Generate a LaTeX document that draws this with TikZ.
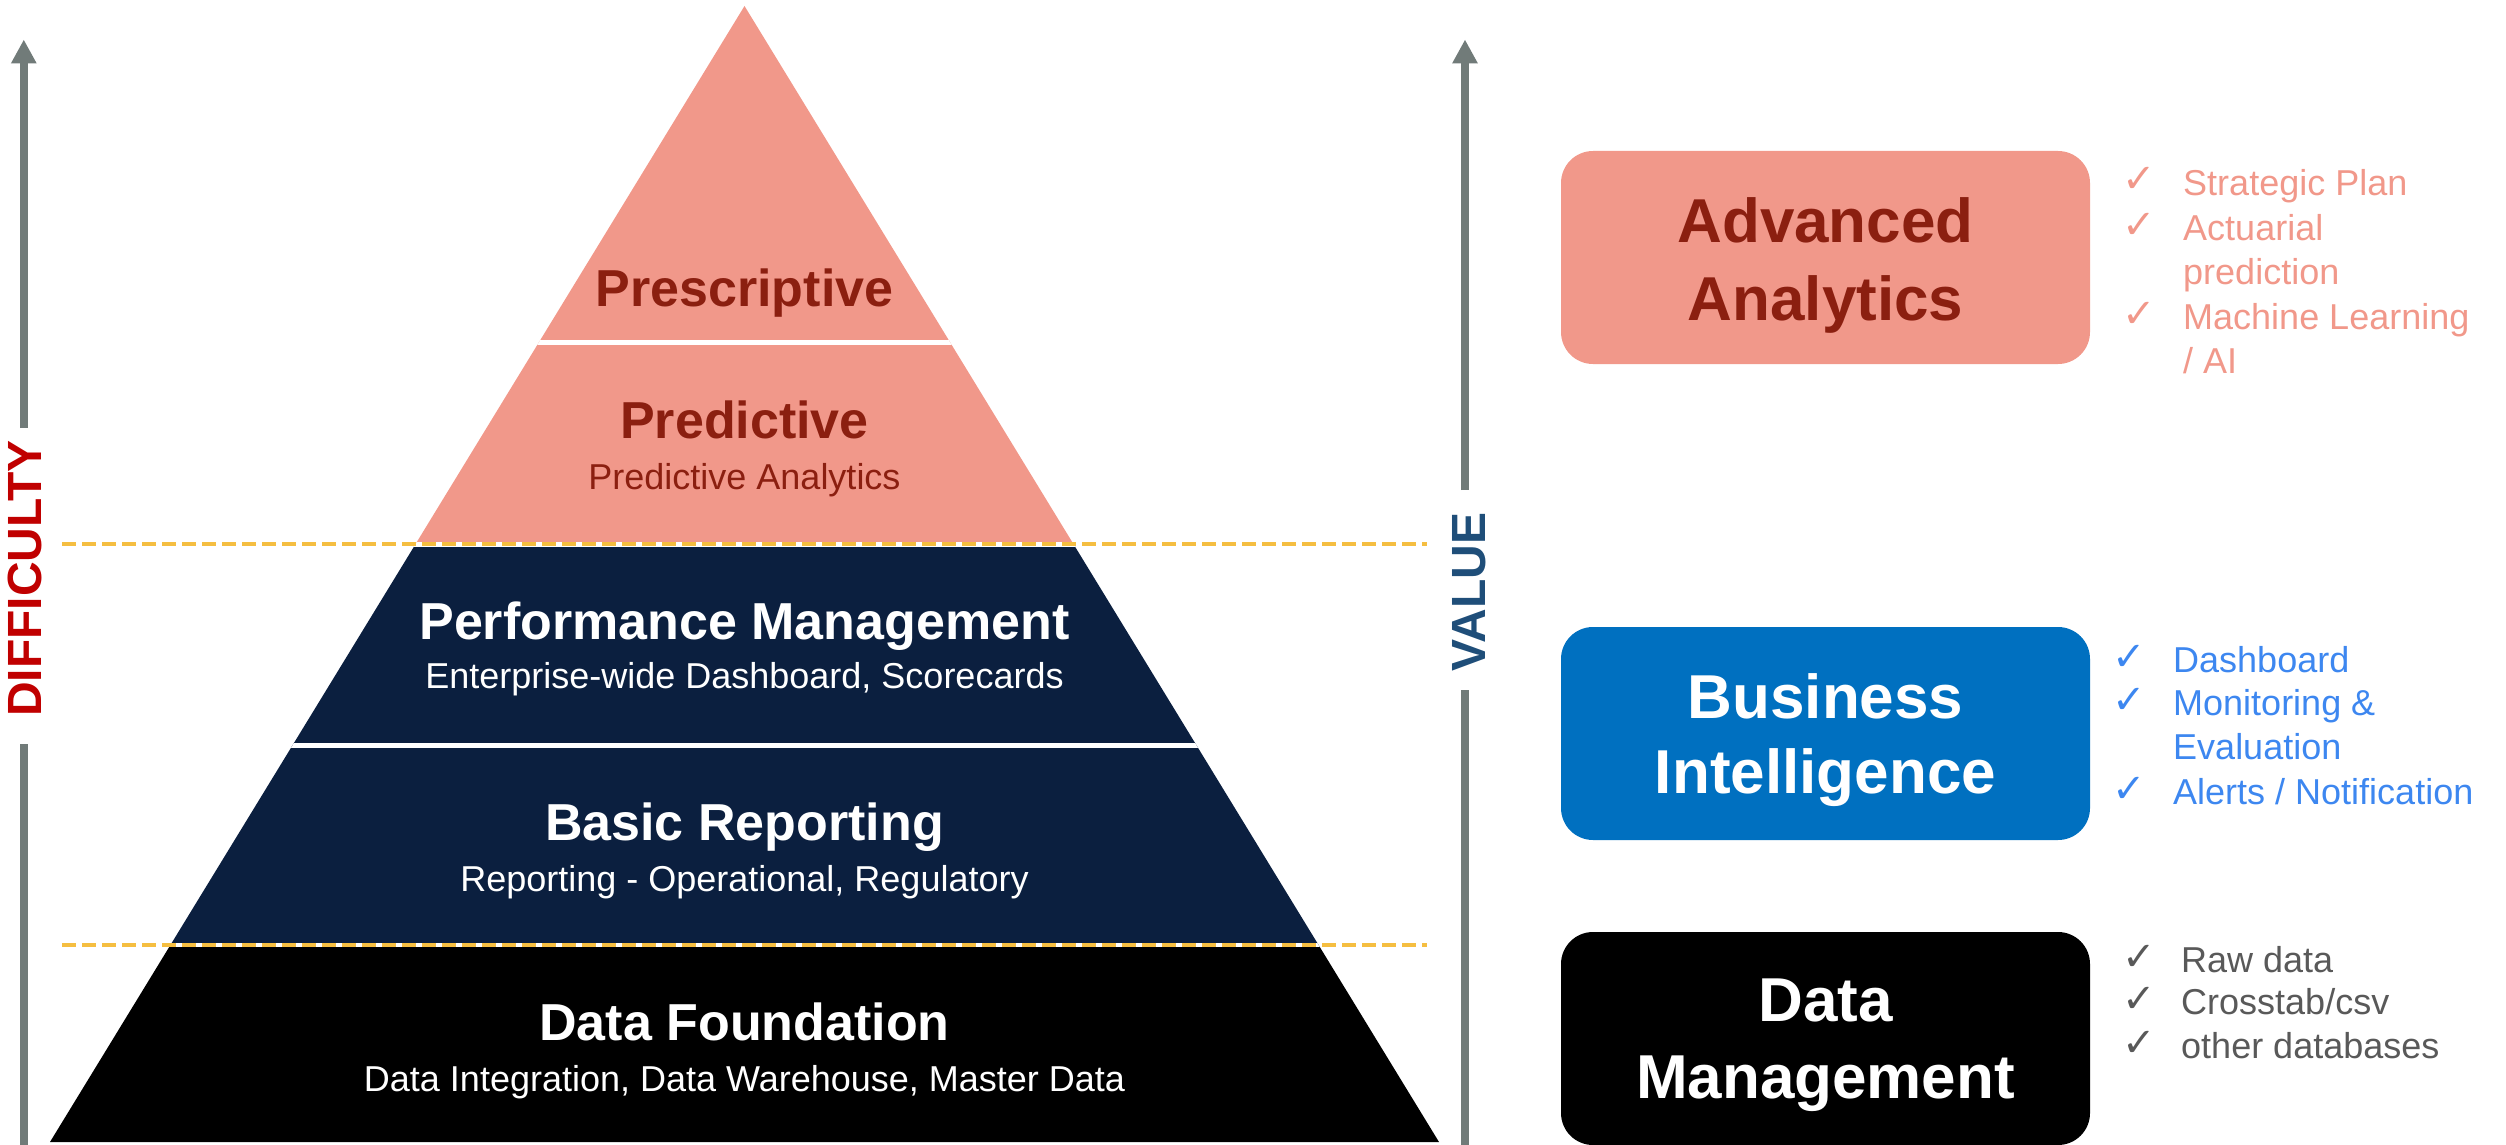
\documentclass[tikz,border=0pt]{standalone}
\usepackage{fontspec}
\setmainfont{Liberation Sans}
\newfontfamily\symfont{DejaVu Sans}
\usetikzlibrary{arrows.meta}
\definecolor{salmon}{HTML}{F1988A}
\definecolor{darkred}{HTML}{8B1F10}
\definecolor{navy}{HTML}{0B1F3F}
\definecolor{bibox}{HTML}{0070C0}
\definecolor{bitext}{HTML}{3D87F0}
\definecolor{dmtext}{HTML}{595959}
\definecolor{arrowgray}{HTML}{717B79}
\definecolor{diffred}{HTML}{C00000}
\definecolor{valblue}{HTML}{1F4E79}
\definecolor{dashyellow}{HTML}{F5BE41}
\begin{document}
\begin{tikzpicture}[x=1pt,y=-1pt,
  title/.style={anchor=base, inner sep=0pt, font=\bfseries\fontsize{52}{60}\selectfont},
  sub/.style={anchor=base, inner sep=0pt, font=\fontsize{36}{42}\selectfont},
  boxtitle/.style={anchor=base, inner sep=0pt, font=\bfseries\fontsize{62}{70}\selectfont},
  item/.style={anchor=base west, inner sep=0pt, font=\fontsize{36}{42}\selectfont},
  tick/.style={anchor=base west, inner sep=0pt, font=\symfont\fontsize{40}{42}\selectfont},
  axis/.style={arrowgray, line width=8pt},
  axishead/.style={axis, -{Triangle[width=24pt,length=24pt]}},
  axislabel/.style={rotate=90, inner sep=0pt, font=\bfseries\fontsize{48}{50}\selectfont},
  sep/.style={white, line width=4.5pt},
  level/.style={dashyellow, line width=3.5pt, dash pattern=on 14pt off 6pt},
  panel/.style={rounded corners=32pt, minimum width=529pt, minimum height=213pt, inner sep=0pt}
]
\useasboundingbox (0,0) rectangle (2506,1145);

% pyramid
\coordinate (apex) at (744.5,6);
\coordinate (bl) at (50,1142);
\coordinate (br) at (1439,1142);
\begin{scope}
\clip (apex) -- (br) -- (bl) -- cycle;
\fill[salmon] (0,0) rectangle (2506,546);
\fill[navy] (0,546) rectangle (2506,945);
\fill[black] (0,945) rectangle (2506,1145);
\draw[sep] (0,342.5) -- (2506,342.5);
\draw[sep, line width=5pt] (0,544) -- (2506,544);
\draw[sep] (0,745.5) -- (2506,745.5);
\draw[sep] (0,945) -- (2506,945);
\end{scope}

% dashed level lines
\coordinate (d1l) at (62,544);
\coordinate (d1r) at (1427,544);
\coordinate (d2l) at (62,945);
\coordinate (d2r) at (1427,945);
\draw[level] (d1l) -- (d1r);
\draw[level] (d2l) -- (d2r);

% pyramid texts
\node[title, darkred] (presc) at (744.5,306) {Prescriptive};
\node[title, darkred] (pred) at (744.5,438) {Predictive};
\node[sub, darkred] (predsub) at (744.5,489) {Predictive Analytics};
\node[title, white] (perf) at (744.5,639) {Performance Management};
\node[sub, white] (perfsub) at (744.5,688.5) {Enterprise-wide Dashboard, Scorecards};
\node[title, white] (basic) at (744.5,840) {Basic Reporting};
\node[sub, white] (basicsub) at (744.5,891) {Reporting - Operational, Regulatory};
\node[title, white] (found) at (744.5,1040) {Data Foundation};
\node[sub, white] (foundsub) at (744.5,1091) {Data Integration, Data Warehouse, Master Data};

% difficulty axis
\coordinate (da0) at (23.8,1145);
\coordinate (da1) at (23.8,744);
\coordinate (da2) at (23.8,428);
\coordinate (da3) at (23.8,39.5);
\draw[axis] (da0) -- (da1);
\draw[axishead] (da2) -- (da3);
\node[axislabel, diffred] (diff) at (25.3,578.5) {DIFFICULTY};

% value axis
\coordinate (va0) at (1465,1145);
\coordinate (va1) at (1465,690);
\coordinate (va2) at (1465,490);
\coordinate (va3) at (1465,39.5);
\draw[axis] (va0) -- (va1);
\draw[axishead] (va2) -- (va3);
\node[axislabel, valblue] (val) at (1469,592) {VALUE};

% right panels
\node[panel, fill=salmon] (aa) at (1825.5,257.5) {};
\node[boxtitle, darkred] (aa1) at (1825.5,242.7) {Advanced};
\node[boxtitle, darkred] (aa2) at (1825.5,320) {Analytics};

\node[panel, fill=bibox] (bi) at (1825.5,733.5) {};
\node[boxtitle, white] (bi1) at (1825.5,718) {Business};
\node[boxtitle, white] (bi2) at (1825.5,793.5) {Intelligence};

\node[panel, fill=black] (dm) at (1825.5,1038.5) {};
\node[boxtitle, white] (dm1) at (1825.5,1021) {Data};
\node[boxtitle, white] (dm2) at (1825.5,1098) {Management};

% lists
\node[tick, salmon] (aat1) at (2122,193) {✓};
\node[item, salmon] (aai1) at (2183,195) {Strategic Plan};
\node[tick, salmon] (aat2) at (2122,238) {✓};
\node[item, salmon] (aai2) at (2183,240) {Actuarial};
\node[item, salmon] (aai2b) at (2183,284) {prediction};
\node[tick, salmon] (aat3) at (2122,327) {✓};
\node[item, salmon] (aai3) at (2183,329) {Machine Learning};
\node[item, salmon] (aai3b) at (2183,373) {/ AI};

\node[tick, bitext] (bit1) at (2112,670) {✓};
\node[item, bitext] (bii1) at (2173,672) {Dashboard};
\node[tick, bitext] (bit2) at (2112,713) {✓};
\node[item, bitext] (bii2) at (2173,715) {Monitoring \&};
\node[item, bitext] (bii2b) at (2173,759) {Evaluation};
\node[tick, bitext] (bit3) at (2112,802) {✓};
\node[item, bitext] (bii3) at (2173,804) {Alerts / Notification};

\node[tick, dmtext] (dmt1) at (2122,970) {✓};
\node[item, dmtext] (dmi1) at (2181,972) {Raw data};
\node[tick, dmtext] (dmt2) at (2122,1012) {✓};
\node[item, dmtext] (dmi2) at (2181,1014) {Crosstab/csv};
\node[tick, dmtext] (dmt3) at (2122,1056) {✓};
\node[item, dmtext] (dmi3) at (2181,1058) {other databases};
\end{tikzpicture}
\end{document}
